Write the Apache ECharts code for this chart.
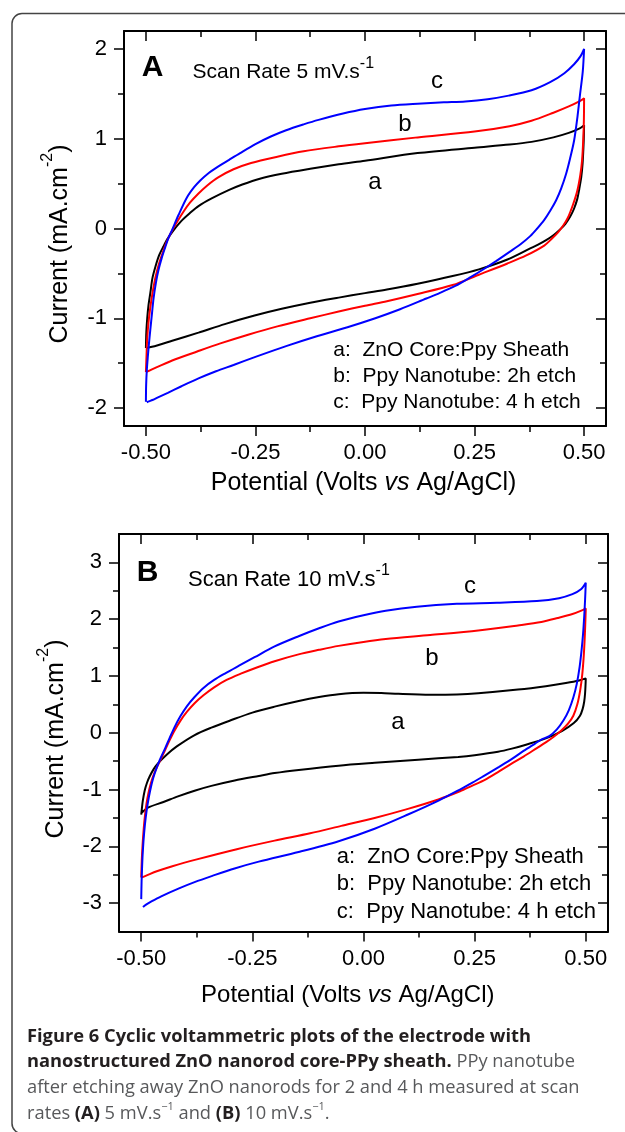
<!DOCTYPE html>
<html>
<head>
<meta charset="utf-8">
<script src="https://cdn.jsdelivr.net/npm/echarts@6.0.0/dist/echarts.min.js"></script>
<style>
  html, body { margin: 0; padding: 0; background: #fff; }
  #chart { width: 625px; height: 1132px; }
</style>
</head>
<body>
<div id="chart"></div>
<script>
// ---- axis ticks ----
const xMajor = [-0.5, -0.25, 0, 0.25, 0.5]
const xMinor = [-0.375, -0.125, 0.125, 0.375]
const yMajorA = [-2, -1, 0, 1, 2]
const yMinorA = [-1.5, -0.5, 0.5, 1.5]
const yMajorB = [-3, -2, -1, 0, 1, 2, 3]
const yMinorB = [-2.5, -1.5, -0.5, 0.5, 1.5, 2.5]

// ---- panel A (5 mV/s): [potential V, current mA/cm2], forward then reverse scan ----
const aFwdA = [[-0.5,-1.33],[-0.499,-1.15],[-0.497,-1.0],[-0.494,-0.85],[-0.49,-0.72],[-0.485,-0.55],[-0.478,-0.42],[-0.47,-0.3],[-0.46,-0.2],[-0.45,-0.11],[-0.437,-0.02],[-0.42,0.08],[-0.4,0.17],[-0.38,0.25],[-0.35,0.335],[-0.31,0.43],[-0.28,0.49],[-0.24,0.555],[-0.19,0.61],[-0.125,0.665],[-0.06,0.715],[0.0,0.755],[0.12,0.84],[0.25,0.9],[0.33,0.935],[0.38,0.965],[0.43,1.015],[0.465,1.065],[0.49,1.115],[0.5,1.15]]
const aRevA = [[0.5,1.15],[0.4993,1.0],[0.4982,0.87],[0.4965,0.72],[0.4936,0.574],[0.489,0.44],[0.4845,0.33],[0.477,0.22],[0.468,0.13],[0.457,0.05],[0.4453,-0.01],[0.43,-0.075],[0.4134,-0.13],[0.395,-0.18],[0.377,-0.222],[0.325,-0.345],[0.26,-0.455],[0.2,-0.53],[0.12,-0.615],[0.05,-0.68],[0.0,-0.72],[-0.06,-0.77],[-0.125,-0.827],[-0.19,-0.895],[-0.252,-0.97],[-0.32,-1.065],[-0.38,-1.16],[-0.44,-1.25],[-0.486,-1.318],[-0.5,-1.33]]
const bFwdA = [[-0.5,-1.6],[-0.4985,-1.4],[-0.497,-1.22],[-0.494,-1.04],[-0.49,-0.88],[-0.485,-0.72],[-0.478,-0.54],[-0.47,-0.39],[-0.461,-0.26],[-0.452,-0.14],[-0.441,-0.03],[-0.428,0.08],[-0.414,0.19],[-0.399,0.29],[-0.38,0.39],[-0.36,0.48],[-0.335,0.57],[-0.3,0.66],[-0.26,0.73],[-0.2,0.8],[-0.14,0.86],[-0.06,0.915],[0.0,0.95],[0.12,1.015],[0.25,1.08],[0.33,1.14],[0.38,1.2],[0.43,1.29],[0.465,1.36],[0.49,1.42],[0.5,1.45]]
const bRevA = [[0.5,1.45],[0.4995,1.2],[0.498,0.98],[0.4954,0.76],[0.4915,0.6],[0.4845,0.42],[0.475,0.27],[0.463,0.12],[0.452,0.03],[0.441,-0.04],[0.425,-0.12],[0.409,-0.19],[0.368,-0.3],[0.325,-0.39],[0.26,-0.515],[0.2,-0.63],[0.12,-0.73],[0.05,-0.81],[0.0,-0.86],[-0.06,-0.925],[-0.125,-1.0],[-0.2,-1.09],[-0.265,-1.18],[-0.33,-1.28],[-0.383,-1.37],[-0.44,-1.47],[-0.493,-1.585],[-0.5,-1.6]]
const cFwdA = [[-0.5,-1.93],[-0.4995,-1.75],[-0.498,-1.58],[-0.4955,-1.42],[-0.493,-1.28],[-0.49,-1.13],[-0.486,-0.94],[-0.4826,-0.78],[-0.477,-0.6],[-0.4712,-0.46],[-0.464,-0.33],[-0.456,-0.21],[-0.449,-0.11],[-0.4406,-0.02],[-0.4256,0.15],[-0.4064,0.345],[-0.39,0.46],[-0.376,0.535],[-0.36,0.605],[-0.338,0.68],[-0.31,0.765],[-0.285,0.84],[-0.25,0.94],[-0.215,1.025],[-0.18,1.095],[-0.14,1.16],[-0.106,1.21],[-0.05,1.28],[0.0,1.33],[0.06,1.37],[0.12,1.39],[0.18,1.405],[0.229,1.415],[0.28,1.44],[0.328,1.48],[0.38,1.54],[0.4225,1.63],[0.455,1.73],[0.4772,1.83],[0.492,1.92],[0.5,2.0]]
const cRevA = [[0.5,2.0],[0.497,1.75],[0.4909,1.5],[0.485,1.25],[0.4772,0.98],[0.468,0.78],[0.459,0.61],[0.448,0.45],[0.4362,0.315],[0.423,0.2],[0.4088,0.093],[0.393,0.0],[0.377,-0.085],[0.355,-0.175],[0.33,-0.26],[0.3,-0.36],[0.275,-0.44],[0.24,-0.545],[0.206,-0.64],[0.17,-0.72],[0.14,-0.78],[0.08,-0.9],[0.0235,-1.0],[-0.04,-1.1],[-0.11,-1.2],[-0.18,-1.31],[-0.25,-1.43],[-0.3,-1.52],[-0.34,-1.59],[-0.38,-1.67],[-0.42,-1.76],[-0.45,-1.83],[-0.47,-1.875],[-0.485,-1.91],[-0.493,-1.925],[-0.498,-1.935]]

// ---- panel B (10 mV/s) ----
const aFwdB = [[-0.5,-1.44],[-0.4985,-1.33],[-0.4965,-1.2],[-0.4923,-1.02],[-0.487,-0.88],[-0.4811,-0.77],[-0.472,-0.64],[-0.4624,-0.54],[-0.4435,-0.39],[-0.42,-0.24],[-0.3798,-0.04],[-0.3422,0.09],[-0.3,0.215],[-0.25,0.355],[-0.2,0.46],[-0.1457,0.56],[-0.1,0.63],[-0.056,0.68],[0.0,0.705],[0.04,0.7],[0.0785,0.685],[0.15,0.67],[0.21,0.675],[0.2578,0.695],[0.3475,0.76],[0.41,0.82],[0.4552,0.875],[0.485,0.92],[0.5,0.957]]
const aRevB = [[0.5,0.957],[0.4995,0.85],[0.4985,0.7],[0.4965,0.55],[0.493,0.42],[0.487,0.3],[0.4731,0.17],[0.4462,0.03],[0.41,-0.1],[0.3655,-0.21],[0.3337,-0.28],[0.3027,-0.335],[0.25,-0.395],[0.213,-0.425],[0.1233,-0.475],[0.0253,-0.53],[-0.056,-0.58],[-0.1457,-0.655],[-0.2,-0.71],[-0.2354,-0.76],[-0.2898,-0.84],[-0.3422,-0.935],[-0.38,-1.02],[-0.4174,-1.12],[-0.45,-1.22],[-0.4849,-1.32],[-0.499,-1.41]]
const bFwdB = [[-0.5,-2.55],[-0.4988,-2.25],[-0.497,-1.98],[-0.4945,-1.7],[-0.4915,-1.45],[-0.488,-1.24],[-0.4835,-1.05],[-0.478,-0.88],[-0.471,-0.72],[-0.463,-0.58],[-0.455,-0.45],[-0.446,-0.3],[-0.436,-0.13],[-0.425,0.04],[-0.412,0.21],[-0.397,0.37],[-0.38,0.52],[-0.36,0.66],[-0.336,0.8],[-0.308,0.93],[-0.276,1.04],[-0.24,1.15],[-0.2,1.26],[-0.146,1.38],[-0.1,1.46],[-0.056,1.53],[0.0,1.6],[0.05,1.65],[0.15,1.72],[0.258,1.8],[0.3475,1.89],[0.4,1.95],[0.437,2.02],[0.47,2.09],[0.49,2.15],[0.5,2.19]]
const bRevB = [[0.5,2.19],[0.4988,1.9],[0.4972,1.6],[0.495,1.3],[0.492,1.02],[0.4875,0.75],[0.481,0.5],[0.472,0.3],[0.46,0.16],[0.445,0.04],[0.428,-0.07],[0.41,-0.17],[0.39,-0.27],[0.36,-0.42],[0.334,-0.54],[0.305,-0.68],[0.273,-0.83],[0.245,-0.93],[0.217,-1.03],[0.17,-1.17],[0.1,-1.34],[0.025,-1.5],[-0.05,-1.64],[-0.12,-1.77],[-0.2,-1.9],[-0.285,-2.05],[-0.375,-2.23],[-0.43,-2.35],[-0.465,-2.44],[-0.49,-2.52],[-0.5,-2.55]]
const cFwdB = [[-0.5,-2.93],[-0.4992,-2.62],[-0.498,-2.35],[-0.4962,-2.06],[-0.4935,-1.77],[-0.49,-1.5],[-0.4855,-1.25],[-0.48,-1.02],[-0.4735,-0.81],[-0.465,-0.61],[-0.456,-0.44],[-0.446,-0.27],[-0.436,-0.09],[-0.425,0.1],[-0.412,0.29],[-0.397,0.47],[-0.38,0.63],[-0.36,0.79],[-0.336,0.93],[-0.31,1.05],[-0.28,1.18],[-0.245,1.33],[-0.2,1.52],[-0.146,1.7],[-0.1,1.84],[-0.056,1.96],[0.0,2.07],[0.05,2.15],[0.12,2.22],[0.21,2.27],[0.3,2.29],[0.39,2.32],[0.44,2.37],[0.47,2.44],[0.49,2.53],[0.5,2.64]]
const cRevB = [[0.5,2.64],[0.4985,2.35],[0.4965,2.05],[0.494,1.75],[0.4905,1.45],[0.486,1.15],[0.48,0.87],[0.472,0.62],[0.462,0.4],[0.45,0.22],[0.435,0.06],[0.418,-0.06],[0.4,-0.12],[0.386,-0.19],[0.36,-0.32],[0.334,-0.46],[0.305,-0.6],[0.273,-0.75],[0.245,-0.88],[0.217,-1.0],[0.17,-1.19],[0.1,-1.44],[0.025,-1.69],[-0.056,-1.91],[-0.146,-2.1],[-0.2356,-2.27],[-0.29,-2.39],[-0.34,-2.52],[-0.38,-2.63],[-0.415,-2.74],[-0.455,-2.88],[-0.477,-2.97],[-0.49,-3.03],[-0.496,-3.07]]

const legendLines = ['a:  ZnO Core:Ppy Sheath', 'b:  Ppy Nanotube: 2h etch', 'c:  Ppy Nanotube: 4 h etch']
const colors = ['#000000', '#ff0000', '#0000ff']

const FONT = '"Liberation Sans", Arial, Helvetica, sans-serif'
const CAP = '"Open Sans", "Noto Sans", sans-serif'

// four x axes + four y axes per grid: main/minor ticks on each side of the box
function boxAxes(gi, ymin, ymax, yMajor, yMinor) {
  const line = { show: true, onZero: false, lineStyle: { color: '#000', width: 2 } }
  const noLine = { show: false, onZero: false }
  const tick = (vals, len, inside) => ({ show: true, customValues: vals, length: len, inside, lineStyle: { color: '#000', width: 1.5 } })
  const lab = { fontSize: 22, color: '#000', fontFamily: FONT }
  const xb = { type: 'value', gridIndex: gi, min: -0.55, max: 0.55, splitLine: { show: false } }
  const yb = { type: 'value', gridIndex: gi, min: ymin, max: ymax, splitLine: { show: false } }
  const x = [
    { ...xb, position: 'bottom', axisLine: line, axisTick: tick(xMajor, 10, false),
      axisLabel: { ...lab, customValues: xMajor, margin: 16, formatter: v => v.toFixed(2) } },
    { ...xb, position: 'bottom', axisLine: noLine, axisTick: tick(xMinor, 6, false), axisLabel: { show: false } },
    { ...xb, position: 'top', axisLine: line, axisTick: tick(xMajor, 10, true), axisLabel: { show: false } },
    { ...xb, position: 'top', axisLine: noLine, axisTick: tick(xMinor, 6, true), axisLabel: { show: false } }
  ]
  const y = [
    { ...yb, position: 'left', axisLine: line, axisTick: tick(yMajor, 10, false),
      axisLabel: { ...lab, customValues: yMajor, margin: 17, formatter: v => String(v) } },
    { ...yb, position: 'left', axisLine: noLine, axisTick: tick(yMinor, 6, false), axisLabel: { show: false } },
    { ...yb, position: 'right', axisLine: line, axisTick: tick(yMajor, 10, true), axisLabel: { show: false } },
    { ...yb, position: 'right', axisLine: noLine, axisTick: tick(yMinor, 6, true), axisLabel: { show: false } }
  ]
  return { x, y }
}

const axA = boxAxes(0, -2.2, 2.2, yMajorA, yMinorA)
const axB = boxAxes(1, -3.5, 3.5, yMajorB, yMinorB)

function cv(name, fwd, rev, color, axisIdx) {
  return {
    name, type: 'line', data: fwd.concat(rev.slice(1)),
    xAxisIndex: axisIdx, yAxisIndex: axisIdx,
    showSymbol: false, symbol: 'none', smooth: 0.3,
    lineStyle: { color, width: 2 }, itemStyle: { color },
    animation: false
  }
}

const series = [
  cv('a (A)', aFwdA, aRevA, colors[0], 0),
  cv('b (A)', bFwdA, bRevA, colors[1], 0),
  cv('c (A)', cFwdA, cRevA, colors[2], 0),
  cv('a (B)', aFwdB, aRevB, colors[0], 4),
  cv('b (B)', bFwdB, bRevB, colors[1], 4),
  cv('c (B)', cFwdB, cRevB, colors[2], 4)
]

const txt = (x, y, text, size, extra) => ({
  type: 'text', x, y, silent: true,
  style: { text, fontSize: size, fontFamily: FONT, fill: '#000', textAlign: 'center', textVerticalAlign: 'middle', ...(extra || {}) }
})

const supRich = (main, sup) => ({
  m: { fontSize: main, fontFamily: FONT, fill: '#000', lineHeight: main * 1.6, verticalAlign: 'middle' },
  i: { fontSize: main, fontFamily: FONT, fontStyle: 'italic', fill: '#000', lineHeight: main * 1.6, verticalAlign: 'middle' },
  s: { fontSize: sup, fontFamily: FONT, fill: '#000', lineHeight: 12, verticalAlign: 'top' }
})

const graphics = [
  { type: 'rect', shape: { x: 12, y: 13.5, width: 700, height: 1120, r: 10 }, style: { fill: 'none', stroke: '#444', lineWidth: 1.5 }, silent: true },
  // panel A
  txt(152.5, 67.5, 'A', 30, { fontWeight: 'bold' }),
  { type: 'text', x: 192.5, y: 72.5, silent: true, style: { text: '{m|Scan Rate 5 mV.s}{s|-1}', textAlign: 'left', textVerticalAlign: 'middle', rich: supRich(21, 16) } },
  txt(437, 81, 'c', 24), txt(405, 124, 'b', 24), txt(375, 182, 'a', 24),
  { type: 'text', x: 333.3, y: 337.5, silent: true, style: { text: legendLines.join('\n'), fontSize: 21, fontFamily: FONT, fill: '#000', lineHeight: 25.7, textAlign: 'left', textVerticalAlign: 'top' } },
  { type: 'text', x: 363.6, y: 483.3, silent: true, style: { text: '{m|Potential (Volts }{i|vs}{m| Ag/AgCl)}', textAlign: 'center', textVerticalAlign: 'middle', rich: supRich(25, 16) } },
  { type: 'text', x: 59.8, y: 244, rotation: Math.PI / 2, silent: true, style: { text: '{m|Current (mA.cm}{s|-2}{m|)}', textAlign: 'center', textVerticalAlign: 'middle', rich: supRich(25, 16) } },
  // panel B
  txt(147.5, 572.5, 'B', 30, { fontWeight: 'bold' }),
  { type: 'text', x: 188.1, y: 580, silent: true, style: { text: '{m|Scan Rate 10 mV.s}{s|-1}', textAlign: 'left', textVerticalAlign: 'middle', rich: supRich(22, 16) } },
  txt(470, 586, 'c', 24), txt(432, 658.5, 'b', 24), txt(398, 722.5, 'a', 24),
  { type: 'text', x: 336.8, y: 843, silent: true, style: { text: legendLines.join('\n'), fontSize: 22, fontFamily: FONT, fill: '#000', lineHeight: 27.5, textAlign: 'left', textVerticalAlign: 'top' } },
  { type: 'text', x: 347.8, y: 995, silent: true, style: { text: '{m|Potential (Volts }{i|vs}{m| Ag/AgCl)}', textAlign: 'center', textVerticalAlign: 'middle', rich: supRich(24, 16) } },
  { type: 'text', x: 55.8, y: 739, rotation: Math.PI / 2, silent: true, style: { text: '{m|Current (mA.cm}{s|-2}{m|)}', textAlign: 'center', textVerticalAlign: 'middle', rich: supRich(25, 16) } },
  // caption
  { type: 'text', x: 27, y: 1023.5, silent: true, style: {
      text: '{b|Figure 6 Cyclic voltammetric plots of the electrode with}\n' +
            '{b|nanostructured ZnO nanorod core-PPy sheath.}{r| PPy nanotube}\n' +
            '{r|after etching away ZnO nanorods for 2 and 4 h measured at scan}\n' +
            '{r|rates }{b|(A)}{r| 5 mV.s}{s|\u22121}{r| and }{b|(B)}{r| 10 mV.s}{s|\u22121}{r|.}',
      textAlign: 'left', textVerticalAlign: 'top',
      rich: {
        b: { fontSize: 18.3, fontFamily: CAP, fontWeight: 'bold', fill: '#231f20', lineHeight: 25.8, verticalAlign: 'middle' },
        r: { fontSize: 18.3, fontFamily: CAP, fill: '#58595b', lineHeight: 25.8, verticalAlign: 'middle' },
        s: { fontSize: 11, fontFamily: CAP, fill: '#58595b', lineHeight: 12, verticalAlign: 'top' }
      }
  } }
]

const chart = echarts.init(document.getElementById('chart'), null, { renderer: 'canvas' })
chart.setOption({
  animation: false,
  backgroundColor: '#fff',
  grid: [
    { left: 124, top: 31, width: 482, height: 395 },
    { left: 119, top: 534, width: 489, height: 397.5 }
  ],
  xAxis: axA.x.concat(axB.x),
  yAxis: axA.y.concat(axB.y),
  series,
  graphic: graphics
})
</script>
</body>
</html>
